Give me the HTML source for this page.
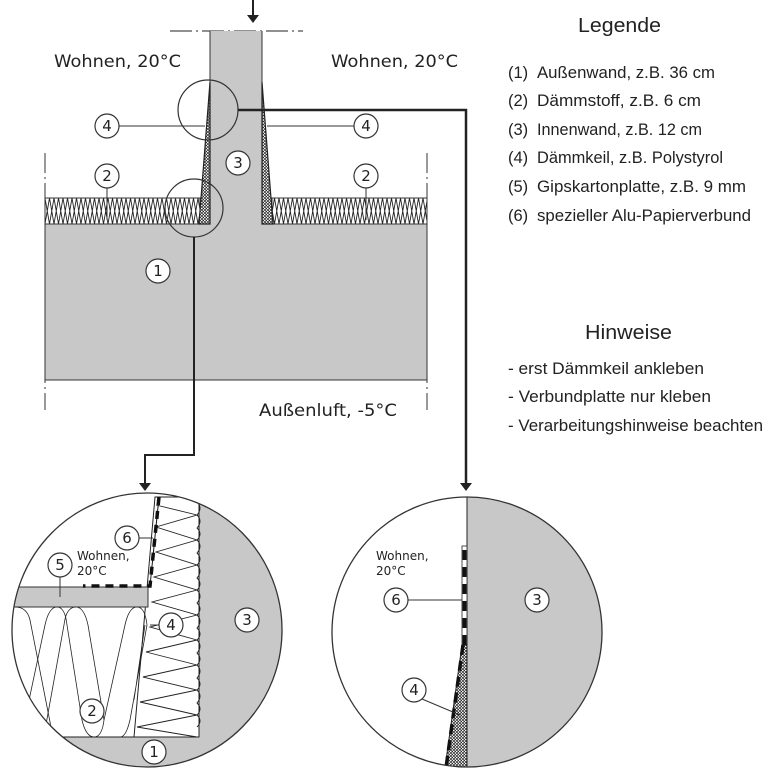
<!DOCTYPE html>
<html><head><meta charset="utf-8"><style>
html,body{margin:0;padding:0;background:#fff;}
svg{display:block;}
text{font-family:"Liberation Sans","DejaVu Sans",sans-serif;fill:#222;}
.dv{font-family:"DejaVu Sans","Liberation Sans",sans-serif;}
</style></head><body>
<svg width="769" height="775" viewBox="0 0 769 775" xmlns="http://www.w3.org/2000/svg">
<defs>
<pattern id="zz" x="45" y="198" width="9" height="26" patternUnits="userSpaceOnUse">
<path d="M0,0 L4.5,26 L9,0 M0,26 L4.5,0 L9,26" stroke="#222" stroke-width="0.9" fill="none"/>
</pattern>
<pattern id="fine" x="0" y="0" width="3" height="3" patternUnits="userSpaceOnUse">
<rect width="3" height="3" fill="#fff"/><path d="M0,0 L3,1.5 L0,3" stroke="#222" stroke-width="0.8" fill="none"/>
</pattern>
<clipPath id="cl"><ellipse cx="147" cy="630" rx="135" ry="137"/></clipPath>
<clipPath id="cr"><ellipse cx="467" cy="632" rx="135" ry="135"/></clipPath>
</defs>

<!-- top drawing -->
<line x1="253" y1="0" x2="253" y2="16" stroke="#222" stroke-width="2"/>
<path d="M247,15 L259,15 L253,23 Z" fill="#222"/>
<path d="M170,31 H303" stroke="#222" stroke-width="1" stroke-dasharray="22,4,2,4"/>
<rect x="45" y="224" width="382" height="156" fill="#c8c8c8" stroke="#333" stroke-width="1"/>
<rect x="210" y="31" width="52" height="194" fill="#c8c8c8"/>
<line x1="210" y1="31" x2="210" y2="224" stroke="#333"/>
<line x1="262" y1="31" x2="262" y2="224" stroke="#333"/>
<rect x="45" y="198" width="155" height="26" fill="url(#zz)" stroke="#333" stroke-width="1"/>
<rect x="272" y="198" width="155" height="26" fill="url(#zz)" stroke="#333" stroke-width="1"/>
<path d="M210,82 L210,224 L199,224 Z" fill="url(#fine)" stroke="#222" stroke-width="1.2"/>
<path d="M262,82 L262,224 L273,224 Z" fill="url(#fine)" stroke="#222" stroke-width="1.2"/>
<path d="M45,153 V410 M427,153 V410" stroke="#333" stroke-width="1" stroke-dasharray="20,4,2,4"/>
<circle cx="208" cy="110" r="30" fill="none" stroke="#333" stroke-width="1.2"/>
<circle cx="194" cy="208" r="29" fill="none" stroke="#333" stroke-width="1.2"/>
<path d="M238,110 H466 V483" stroke="#222" stroke-width="2.5" fill="none"/>
<path d="M460,483 L472,483 L466,491 Z" fill="#222"/>
<path d="M194,237 V455 H145 V483" stroke="#222" stroke-width="2" fill="none"/>
<path d="M139,483 L151,483 L145,491 Z" fill="#222"/>
<line x1="119" y1="126" x2="205" y2="126" stroke="#333"/>
<line x1="267" y1="126" x2="354" y2="126" stroke="#333"/>
<line x1="107" y1="188" x2="107" y2="220" stroke="#333"/>
<line x1="366" y1="188" x2="366" y2="220" stroke="#333"/>
<g fill="#fff" stroke="#333" stroke-width="1.2">
<circle cx="107" cy="126" r="12"/><circle cx="366" cy="126" r="12"/>
<circle cx="238" cy="163" r="12"/><circle cx="107" cy="176" r="12"/>
<circle cx="366" cy="176" r="12"/><circle cx="158" cy="271" r="12"/>
</g>
<g class="dv" font-size="15" text-anchor="middle">
<text x="107" y="131" class="dv">4</text><text x="366" y="131" class="dv">4</text>
<text x="238" y="168" class="dv">3</text><text x="107" y="181" class="dv">2</text>
<text x="366" y="181" class="dv">2</text><text x="158" y="276" class="dv">1</text>
</g>
<text x="54" y="67" font-size="17" class="dv" textLength="127" lengthAdjust="spacingAndGlyphs">Wohnen, 20°C</text>
<text x="331" y="67" font-size="17" class="dv" textLength="127" lengthAdjust="spacingAndGlyphs">Wohnen, 20°C</text>
<text x="259" y="416" font-size="17" class="dv" textLength="138" lengthAdjust="spacingAndGlyphs">Außenluft, -5°C</text>

<!-- legend -->
<text x="578" y="32" font-size="20" textLength="83" lengthAdjust="spacingAndGlyphs">Legende</text>
<g font-size="16.5">
<text x="508" y="78">(1)</text><text x="537" y="78" textLength="178" lengthAdjust="spacingAndGlyphs">Außenwand, z.B. 36 cm</text>
<text x="508" y="106">(2)</text><text x="537" y="106" textLength="164" lengthAdjust="spacingAndGlyphs">Dämmstoff, z.B. 6 cm</text>
<text x="508" y="135">(3)</text><text x="537" y="135" textLength="165" lengthAdjust="spacingAndGlyphs">Innenwand, z.B. 12 cm</text>
<text x="508" y="163">(4)</text><text x="537" y="163" textLength="186" lengthAdjust="spacingAndGlyphs">Dämmkeil, z.B. Polystyrol</text>
<text x="508" y="192">(5)</text><text x="537" y="192" textLength="209" lengthAdjust="spacingAndGlyphs">Gipskartonplatte, z.B. 9 mm</text>
<text x="508" y="221">(6)</text><text x="537" y="221" textLength="214" lengthAdjust="spacingAndGlyphs">spezieller Alu-Papierverbund</text>
<text x="508" y="374" textLength="196" lengthAdjust="spacingAndGlyphs">- erst Dämmkeil ankleben</text>
<text x="508" y="402" textLength="203" lengthAdjust="spacingAndGlyphs">- Verbundplatte nur kleben</text>
<text x="508" y="431" textLength="255" lengthAdjust="spacingAndGlyphs">- Verarbeitungshinweise beachten</text>
</g>
<text x="585" y="339" font-size="20" textLength="87" lengthAdjust="spacingAndGlyphs">Hinweise</text>

<!-- left detail -->
<g clip-path="url(#cl)">
<rect x="0" y="480" width="300" height="300" fill="#fff"/>
<rect x="199" y="480" width="100" height="300" fill="#c8c8c8"/>
<rect x="0" y="737" width="300" height="50" fill="#c8c8c8"/>
<path d="M155,497 L199,497 L199,737 L134,737 Z" fill="#fff" stroke="#222" stroke-width="1"/>
<path d="M156,505 L197,515 L156,527 L197,540 L156,552 L197,565 L154,577 L197,590 L152,602 L197,615 L150,627 L197,640 L146,652 L197,665 L143,677 L197,690 L140,702 L197,715 L137,727 L197,737" stroke="#222" stroke-width="0.9" fill="none"/>
<path d="M197,502 q6,6 0,13 q6,6 0,13 q6,6 0,12 q6,6 0,13 q6,6 0,12 q6,6 0,13 q6,6 0,12 q6,6 0,13 q6,6 0,12 q6,6 0,13 q6,6 0,12 q6,6 0,13 q6,6 0,12 q6,6 0,13 q6,6 0,12 q6,6 0,13 q6,6 0,12 q6,6 0,12" stroke="#222" stroke-width="0.9" fill="none"/>
<rect x="0" y="587" width="148" height="20" fill="#c8c8c8" stroke="#333" stroke-width="1"/>
<path d="M0,737 H199" stroke="#222" stroke-width="1"/>
<path d="M28,705 L45,625 q4,-18 12,-18 q8,0 10,18 L82,720 q4,17 12,17 q8,0 10,-17 L88,625 q-4,-18 -12,-18 q-10,0 -12,18 L45,730" stroke="#222" stroke-width="0.8" fill="none"/>
<path d="M60,737 q-8,0 -10,-15 L30,620 q-3,-13 -15,-13 M104,720 L125,625 q4,-18 12,-18 q8,0 10,18 L130,720 q-4,17 -10,17 M134,700 L145,625" stroke="#222" stroke-width="0.8" fill="none"/>
<path d="M159,497 L150,586 L83,586" stroke="#111" stroke-width="3.5" fill="none" stroke-dasharray="8,6"/>
<path d="M159,497 L150,586" stroke="#111" stroke-width="1" fill="none"/>
</g>
<ellipse cx="147" cy="630" rx="135" ry="137" fill="none" stroke="#333" stroke-width="1.3"/>
<line x1="139" y1="538" x2="153" y2="538" stroke="#333"/>
<line x1="60" y1="577" x2="60" y2="597" stroke="#333"/>
<line x1="150" y1="625" x2="159" y2="625" stroke="#333"/>
<g fill="#fff" stroke="#333" stroke-width="1.2">
<circle cx="127" cy="538" r="12"/><circle cx="60" cy="565" r="12"/>
<circle cx="171" cy="625" r="12"/><circle cx="247" cy="620" r="12"/>
<circle cx="92" cy="711" r="12"/><circle cx="154" cy="752" r="12"/>
</g>
<g class="dv" font-size="15" text-anchor="middle">
<text x="127" y="543" class="dv">6</text><text x="60" y="570" class="dv">5</text>
<text x="171" y="630" class="dv">4</text><text x="247" y="625" class="dv">3</text>
<text x="92" y="716" class="dv">2</text><text x="154" y="757" class="dv">1</text>
</g>
<text x="77" y="560" font-size="12" class="dv">Wohnen,</text>
<text x="77" y="575" font-size="12" class="dv">20°C</text>

<!-- right detail -->
<g clip-path="url(#cr)">
<rect x="320" y="480" width="300" height="300" fill="#fff"/>
<rect x="467" y="480" width="150" height="300" fill="#c8c8c8"/>
<path d="M462,645 L467,645 L467,775 L444,775 Z" fill="url(#fine)" stroke="#222" stroke-width="1"/>
<line x1="467" y1="480" x2="467" y2="780" stroke="#222" stroke-width="1"/>
<rect x="462" y="546" width="5" height="99" fill="#fff" stroke="#222" stroke-width="0.8"/>
<path d="M464.5,550 V645" stroke="#111" stroke-width="4" stroke-dasharray="10,7"/>
<path d="M463,645 L445,775" stroke="#111" stroke-width="3.5" stroke-dasharray="10,6"/>
</g>
<ellipse cx="467" cy="632" rx="135" ry="135" fill="none" stroke="#333" stroke-width="1.3"/>
<line x1="408" y1="600" x2="462" y2="600" stroke="#333"/>
<line x1="422" y1="699" x2="460" y2="715" stroke="#333"/>
<g fill="#fff" stroke="#333" stroke-width="1.2">
<circle cx="396" cy="600" r="12"/><circle cx="537" cy="600" r="12"/><circle cx="414" cy="690" r="12"/>
</g>
<g class="dv" font-size="15" text-anchor="middle">
<text x="396" y="605" class="dv">6</text><text x="537" y="605" class="dv">3</text><text x="414" y="695" class="dv">4</text>
</g>
<text x="376" y="560" font-size="12" class="dv">Wohnen,</text>
<text x="376" y="575" font-size="12" class="dv">20°C</text>
</svg>
</body></html>
